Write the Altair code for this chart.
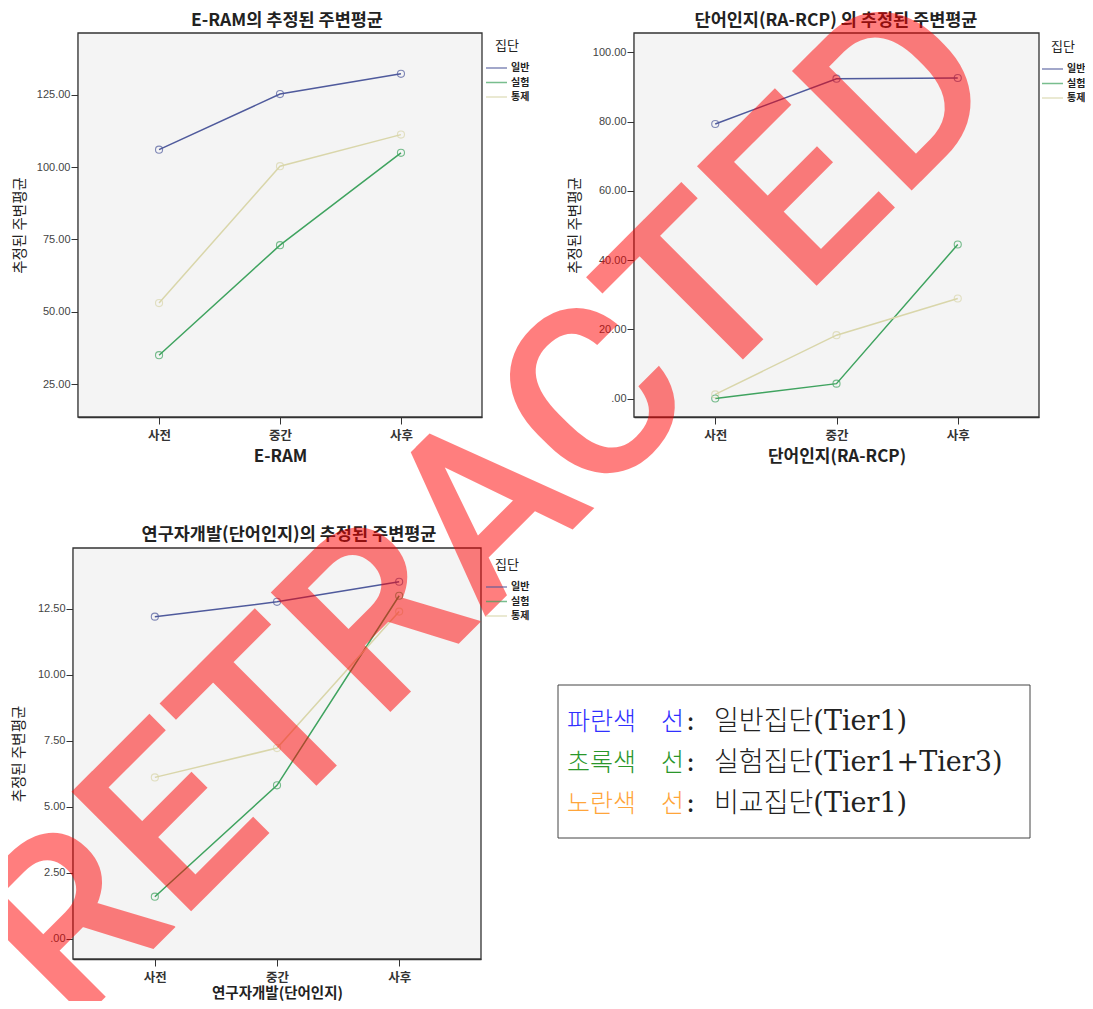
import altair as alt
import pandas as pd

# ---------------- data ----------------
TIMES = ["사전", "중간", "사후"]
GROUPS = ["일반", "실험", "통제"]
COLORS = ["#4f5a9c", "#3fa35f", "#d9d6aa"]

ERAM_GENERAL = [106.0, 125.2, 132.2]
ERAM_EXPERIMENT = [35.0, 73.0, 104.9]
ERAM_CONTROL = [53.0, 100.3, 111.2]

RCP_GENERAL = [79.3, 92.4, 92.6]
RCP_EXPERIMENT = [0.0, 4.3, 44.5]
RCP_CONTROL = [1.2, 18.3, 28.9]

DEV_GENERAL = [12.21, 12.77, 13.53]
DEV_EXPERIMENT = [1.6, 5.82, 13.0]
DEV_CONTROL = [6.12, 7.23, 12.4]

TITLES = ["E-RAM의 추정된 주변평균", "단어인지(RA-RCP) 의 추정된 주변평균", "연구자개발(단어인지)의 추정된 주변평균"]
X_TITLES = ["E-RAM", "단어인지(RA-RCP)", "연구자개발(단어인지)"]
Y_TITLE = "추정된 주변평균"
LEGEND_TITLE = "집단"
Y_TICKS = [[25, 50, 75, 100, 125], [0, 20, 40, 60, 80, 100], [0, 2.5, 5, 7.5, 10, 12.5]]
Y_DOMAINS = [[13.65, 146.3], [-5.34, 105.6], [-0.76, 14.81]]

NOTE_KEYS = ["파란색\u2002\u2002선", "초록색\u2002\u2002선", "노란색\u2002\u2002선"]
NOTE_TEXTS = [":\u2002\u2009일반집단(Tier1)", ":\u2002\u2009실험집단(Tier1+Tier3)", ":\u2002\u2009비교집단(Tier1)"]
NOTE_COLORS = ["#3030ff", "#2a962a", "#ffa53a"]
WATERMARK = "RETRACTED"

# ---------------- layout (page pixels) ----------------
W, H = 1077, 993
OX, OY = 8, 8
PANELS = [
    dict(x0=78, x1=482, y0=33, y1=417, tx=287, ty=21, lx=485, ly=40, ytp=9, xtp=7, xts=17, lp=5),
    dict(x0=634, x1=1039, y0=33, y1=417, tx=836, ty=21, lx=1041, ly=41, ytp=9.5, xtp=7, xts=17, lp=5),
    dict(x0=73, x1=481, y0=548, y1=959, tx=289, ty=535, lx=485, ly=559, ytp=10.5, xtp=3, xts=14.5, lp=5),
]
KFONT = "Noto Sans CJK KR"
NFONT = "Liberation Sans"

one = pd.DataFrame({"k": [0]})


def panel(i, series):
    p = PANELS[i]
    df = pd.DataFrame({
        "시점": TIMES * 3,
        "집단": [g for g in GROUPS for _ in TIMES],
        "값": [v for s in series for v in s],
    })
    x = alt.X(
        "시점:N",
        scale=alt.Scale(type="point", domain=TIMES, range=[p["x0"] - OX, p["x1"] - OX], padding=0.67),
        axis=alt.Axis(
            orient="bottom", offset=-(H - (p["y1"] - OY)), title=X_TITLES[i],
            labelAngle=0, labelFont=KFONT, labelFontSize=12.5, labelFontWeight="bold", labelColor="#333",
            labelPadding=p["lp"], tickSize=7, tickColor="#333", domainColor="#333", domainWidth=1.3,
            titleFont=KFONT, titleFontSize=p["xts"], titleFontWeight="bold", titleColor="#222",
            titlePadding=p["xtp"], grid=False,
        ),
    )
    y = alt.Y(
        "값:Q",
        scale=alt.Scale(domain=Y_DOMAINS[i], range=[p["y1"] - OY, p["y0"] - OY], nice=False, zero=False),
        axis=alt.Axis(
            orient="left", offset=-(p["x0"] - OX), values=Y_TICKS[i],
            labelExpr="datum.value == 0 ? '.00' : format(datum.value, '.2f')",
            labelFont=NFONT, labelFontSize=11, labelColor="#444", labelPadding=1,
            labelFlush=False, labelOverlap=False,
            tickSize=7, tickColor="#333", domainColor="#333", domainWidth=1.3,
            title=Y_TITLE, titleFont=KFONT, titleFontSize=14.5, titleFontWeight="normal",
            titleColor="#222", titlePadding=p["ytp"], grid=False,
        ),
    )
    color = alt.Color(
        "집단:N",
        scale=alt.Scale(domain=GROUPS, range=COLORS),
        legend=alt.Legend(
            title=LEGEND_TITLE, orient="none", legendX=p["lx"] - OX, legendY=p["ly"] - OY,
            symbolType="stroke", symbolSize=441, symbolStrokeWidth=1.5, clipHeight=12,
            rowPadding=2.5, titlePadding=9, labelOffset=3, padding=0, titleAnchor="middle",
            titleFont=KFONT, titleFontSize=13, titleFontWeight="normal", titleColor="#222",
            labelFont=KFONT, labelFontSize=10, labelFontWeight="bold", labelColor="#222",
        ),
    )
    base = alt.Chart(df).encode(x=x, y=y, color=color)
    lines = base.mark_line(strokeWidth=1.5)
    pts = base.mark_point(shape="circle", filled=False, size=50, strokeWidth=1.1)
    return alt.layer(lines, pts)


backgrounds = []
titles = []
for i, p in enumerate(PANELS):
    backgrounds.append(
        alt.Chart(one).mark_rect(fill="#f4f4f4", stroke="#333", strokeWidth=1.3).encode(
            x=alt.value(p["x0"] - OX), x2=alt.value(p["x1"] - OX),
            y=alt.value(p["y0"] - OY), y2=alt.value(p["y1"] - OY),
        )
    )
    titles.append(
        alt.Chart(pd.DataFrame({"t": [TITLES[i]]})).mark_text(
            font=KFONT, fontSize=17.5, fontWeight="bold", color="#222", align="center", baseline="middle"
        ).encode(x=alt.value(p["tx"] - OX), y=alt.value(p["ty"] - OY), text="t:N")
    )

p1 = panel(0, [ERAM_GENERAL, ERAM_EXPERIMENT, ERAM_CONTROL])
p2 = panel(1, [RCP_GENERAL, RCP_EXPERIMENT, RCP_CONTROL])
p3 = panel(2, [DEV_GENERAL, DEV_EXPERIMENT, DEV_CONTROL])

# note box
BOX = dict(x0=558, x1=1030, y0=685, y1=838, ty0=722, ty1=804, kx=567, tx=686)
box = alt.Chart(one).mark_rect(fill="white", stroke="#444", strokeWidth=1).encode(
    x=alt.value(BOX["x0"] - OX), x2=alt.value(BOX["x1"] - OX),
    y=alt.value(BOX["y0"] - OY), y2=alt.value(BOX["y1"] - OY),
)
notes = pd.DataFrame({"row": [0, 1, 2], "key": NOTE_KEYS, "txt": NOTE_TEXTS, "c": NOTE_COLORS})
ny = alt.Y("row:O", scale=alt.Scale(type="point", domain=[0, 1, 2],
                                     range=[BOX["ty0"] - OY, BOX["ty1"] - OY], padding=0), axis=None)
note_keys = alt.Chart(notes).mark_text(
    font=KFONT, fontSize=25, fontWeight=300, align="left", baseline="middle"
).encode(x=alt.value(BOX["kx"] - OX), y=ny, text="key:N", color=alt.Color("c:N", scale=None, legend=None))
note_txt = alt.Chart(notes).mark_text(
    font="DejaVu Serif, Noto Sans CJK KR", fontSize=27, fontWeight=300, color="#222",
    align="left", baseline="middle"
).encode(x=alt.value(BOX["tx"] - OX), y=ny, text="txt:N")

# watermark stamp
wm = alt.Chart(pd.DataFrame({"t": [WATERMARK]})).mark_text(
    font="Roboto", fontSize=238, fontWeight=500, angle=315, color="#ff0000", opacity=0.5,
    align="center", baseline="middle"
).encode(x=alt.value(491 - OX), y=alt.value(511 - OY), text="t:N")

chart = alt.layer(
    *backgrounds, *titles, p1, p2, p3, box, note_keys, note_txt, wm
).resolve_scale(
    x="independent", y="independent", color="independent"
).properties(
    width=W, height=H, padding=0, autosize=alt.AutoSizeParams(type="none")
).configure_view(stroke=None)

chart.save("out.html", embed_options={"renderer": "svg", "actions": False})
